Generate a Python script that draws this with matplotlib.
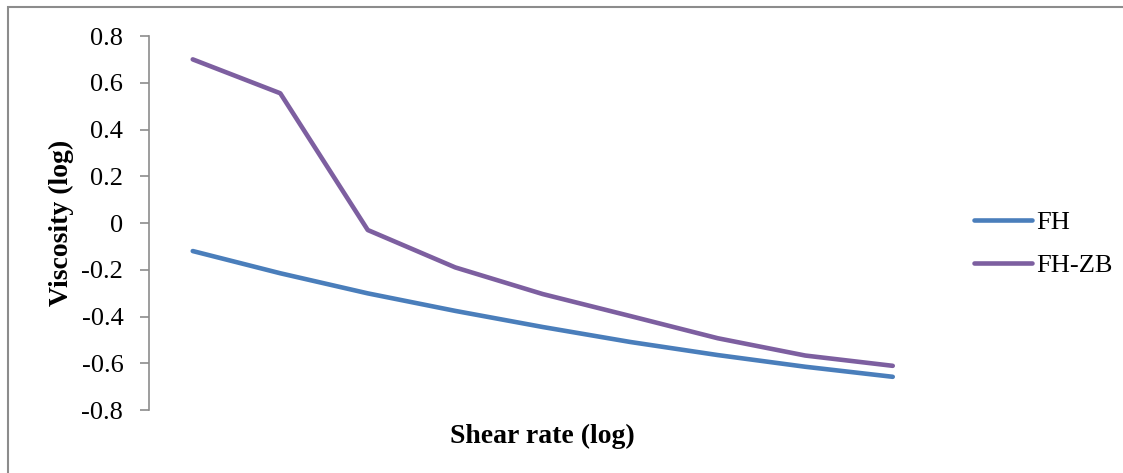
import numpy as np
import matplotlib.pyplot as plt
from matplotlib.patches import Rectangle

# data
points = list(range(1, 10))
fh = [-0.120, -0.215, -0.301, -0.376, -0.445, -0.509, -0.565, -0.615, -0.658]
fh_zb = [0.700, 0.555, -0.030, -0.190, -0.304, -0.398, -0.493, -0.567, -0.611]
yticks = [-0.8, -0.6, -0.4, -0.2, 0, 0.2, 0.4, 0.6, 0.8]
ytick_labels = ['-0.8', '-0.6', '-0.4', '-0.2', '0', '0.2', '0.4', '0.6', '0.8']

plt.rcParams['font.family'] = ['Liberation Serif', 'DejaVu Serif']

fig = plt.figure(figsize=(11.23, 4.73), dpi=100)
ax = fig.add_axes([149/1123, 1-410/473, (936.5-149)/1123, (410-36)/473])

ax.plot(points, fh, color='#4A7EBB', lw=3.3, solid_capstyle='round', solid_joinstyle='round', label='FH')
ax.plot(points, fh_zb, color='#7D5FA0', lw=3.3, solid_capstyle='round', solid_joinstyle='round', label='FH-ZB')

ax.set_xlim(0.5, 9.5)
ax.set_ylim(-0.8, 0.8)
ax.set_yticks(yticks)
ax.set_yticklabels(ytick_labels, fontsize=19)
ax.set_xticks([])
for s in ['top', 'right', 'bottom']:
    ax.spines[s].set_visible(False)
ax.spines['left'].set_color('#8c8c8c')
ax.spines['left'].set_linewidth(1.2)
ax.tick_params(axis='y', length=6.5, width=1.2, color='#8c8c8c', pad=12)

ax.set_xlabel('Shear rate (log)', fontsize=20, fontweight='bold', labelpad=10)
ax.set_ylabel('Viscosity (log)', fontsize=20, fontweight='bold', labelpad=5)

leg = ax.legend(loc='center left', bbox_to_anchor=(950/1123, 1-244/473), bbox_transform=fig.transFigure,
                frameon=False, fontsize=19, handlelength=2.2, handletextpad=0.15, labelspacing=0.75)

# outer chart border
fig.patches.append(Rectangle((8/1123, -0.1), 1.2, 1.1 - 7/473, transform=fig.transFigure,
                             fill=False, edgecolor='#8c8c8c', lw=1.5))

fig.savefig('out.png', dpi=100)
